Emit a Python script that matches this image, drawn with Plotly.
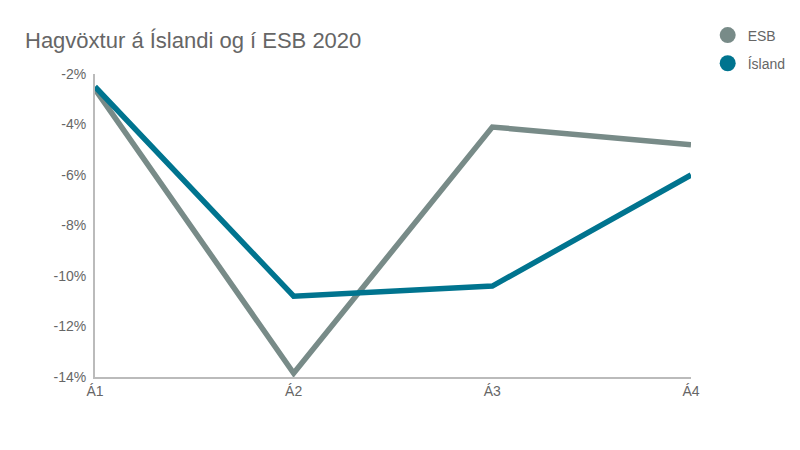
import plotly.graph_objects as go

# Hagvöxtur (%) eftir ársfjórðungum 2020
quarters = ["Á1", "Á2", "Á3", "Á4"]
esb = [-2.6, -13.85, -4.1, -4.8]
island = [-2.5, -10.8, -10.4, -6.0]

ytick_vals = [-14, -12, -10, -8, -6, -4, -2]
ytick_text = ["-14%", "-12%", "-10%", "-8%", "-6%", "-4%", "-2%"]

COLORS = {
    "esb": "#788b88",
    "island": "#00748f",
    "text": "#666666",
    "axis": "#bbbbbb",
}

# síðan bætir 8px spássíu við, svo myndin er höfð 8px minni
W, H = 792, 442

fig = go.Figure()

for name, values, color in [("ESB", esb, COLORS["esb"]), ("Ísland", island, COLORS["island"])]:
    fig.add_trace(go.Scatter(
        x=quarters, y=values,
        mode="lines", name=name,
        line=dict(color=color, width=5.5),
        showlegend=False,
    ))
    # hringlaga tákn í skýringu
    fig.add_trace(go.Scatter(
        x=[None], y=[None],
        mode="markers", name=name,
        legendgroup=name,
        marker=dict(color=color, size=16),
    ))

fig.update_layout(
    width=W, height=H,
    paper_bgcolor="white",
    plot_bgcolor="white",
    font=dict(family="Liberation Sans, Arial, sans-serif", color=COLORS["text"], size=14),
    title=dict(
        text="Hagvöxtur á Íslandi og í ESB 2020",
        x=17 / W, xanchor="left",
        y=1 - 32 / H, yanchor="middle",
        font=dict(size=22, color=COLORS["text"]),
    ),
    margin=dict(l=87, r=109, t=66, b=73, autoexpand=False),
    legend=dict(
        x=1.028, xanchor="left",
        y=1.18, yanchor="top",
        font=dict(size=14, color=COLORS["text"]),
        traceorder="grouped",
        tracegroupgap=7,
        itemwidth=30,
    ),
    xaxis=dict(
        type="category",
        range=[0, 3],
        showgrid=False,
        showline=True, linecolor=COLORS["axis"], linewidth=2,
        ticks="", tickfont=dict(size=14, color=COLORS["text"]),
        zeroline=False,
    ),
    yaxis=dict(
        range=[-14, -2],
        tickvals=ytick_vals, ticktext=ytick_text,
        showgrid=False,
        showline=True, linecolor=COLORS["axis"], linewidth=2,
        ticks="", tickfont=dict(size=14, color=COLORS["text"]),
        ticklabelstandoff=4,
        zeroline=False,
    ),
)

fig.write_html("out.html")
